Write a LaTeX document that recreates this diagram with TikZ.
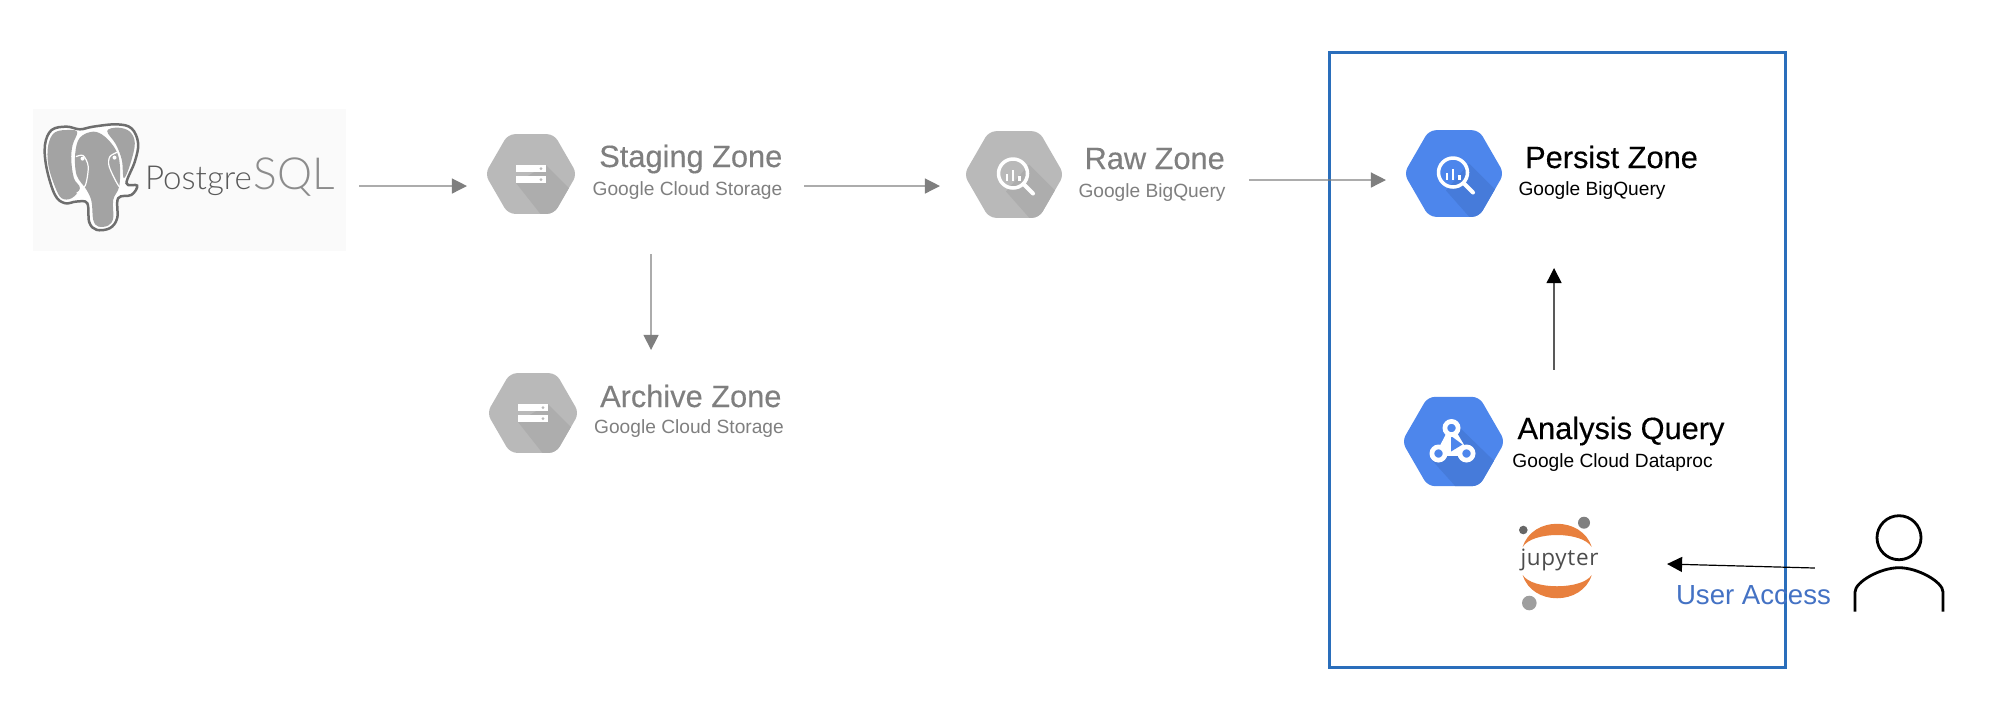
\documentclass[tikz,border=0pt]{standalone}
\usepackage{fontspec}
\setmainfont{Liberation Sans}
\newfontfamily\titlefont[FakeBold=.3]{Liberation Sans}
\newfontfamily\logofont[UprightFont=* Light]{Lato}
\newfontfamily\jupfont[LetterSpace=3]{Open Sans}
\usetikzlibrary{shapes.geometric, arrows.meta, positioning}
\definecolor{ZoneGray}{HTML}{B9B9B9}
\definecolor{ZoneGrayDark}{HTML}{ADADAD}
\definecolor{ZoneBlue}{HTML}{4D86EC}
\definecolor{ZoneBlueDark}{HTML}{467BDA}
\definecolor{LabelGray}{HTML}{7F7F7F}
\definecolor{FrameBlue}{HTML}{2A6EBB}
\definecolor{AccessBlue}{HTML}{4472C4}
\definecolor{JupyterOrange}{HTML}{E8803E}
\definecolor{LogoGray}{HTML}{A3A3A3}
\definecolor{LogoDark}{HTML}{6E6E6E}
\tikzset{
    % Hexagon styles
    hexbox/.style={
        regular polygon,
        regular polygon sides=6,
        draw=none,
        inner sep=0pt,
        rounded corners=.07cm,
        minimum size=#1
    },
    storageglyph/.style={
        path picture={
            \begin{scope}[shift={(path picture bounding box.center)}, sharp corners]
                \fill[#1] (-15,9) -- (15,-9) -- (60,36) -- (30,66) -- cycle;
                \fill[white] (-15,-9.2) rectangle (15,-1.6);
                \fill[white] (-15,1.8) rectangle (15,9.4);
                \fill[ZoneGray] (10,-5.4) circle (1.6);
                \fill[ZoneGray] (10,5.6) circle (1.6);
            \end{scope}
        }
    },
    queryglyph/.style={
        path picture={
            \begin{scope}[shift={(path picture bounding box.center)}, sharp corners]
                \fill[#1] (-8,17) -- (15,-10) -- (65,40) -- (30,60) -- cycle;
                \draw[white, line width=.035cm] (-1,-1) circle (14.5);
                \draw[white, line width=.04cm, line cap=round] (10,10) -- (19,19);
                \fill[white] (-8.5,-1) rectangle (-5.7,6.5);
                \fill[white] (-2.4,-5) rectangle (0.4,6.5);
                \fill[white] (3.7,1) rectangle (6.5,6.5);
            \end{scope}
        }
    },
    procglyph/.style={
        path picture={
            \begin{scope}[shift={(path picture bounding box.center)}, sharp corners]
                \fill[#1] (-23,17) -- (5,-15) -- (67,45) -- (20,65) -- cycle;
                \draw[white, fill=white, line width=.045cm, line join=round] (-2,-13.5) -- (-15,12) -- (13,12) -- cycle;
                \fill[ZoneBlue] (-2.5,-5.5) -- (-2.5,10) -- (9,3) -- cycle;
                \foreach \pos in {(-2,-13.5), (-15,12), (13,12)} {
                    \draw[white, line width=.047cm, fill=ZoneBlue] \pos circle (6.6);
                }
            \end{scope}
        }
    },
    % Label styles
    zonetitle/.style={
        anchor=base,
        inner sep=0pt,
        text=LabelGray,
        font=\titlefont\fontsize{8.75}{10}\selectfont
    },
    zonesub/.style={
        anchor=base,
        inner sep=0pt,
        text=LabelGray,
        font=\fontsize{5.45}{7}\selectfont
    },
    % Arrow styles
    grayarrow/.style={
        -{Triangle[length=.15cm,width=.15cm]},
        line width=.013cm,
        LabelGray
    },
    blackarrow/.style={
        -{Triangle[length=.15cm,width=.15cm]},
        line width=.012cm,
        black
    }
}
\begin{document}
\begin{tikzpicture}[x=.01cm, y=-.01cm]
    \useasboundingbox (0,0) rectangle (1994,708);

    % Frame
    \node[draw=FrameBlue, line width=.03cm, inner sep=0pt, minimum width=4.557cm, minimum height=6.15cm] (frame) at (1557.3,360) {};

    % PostgreSQL logo
    \node[fill=black!2, inner sep=0pt, minimum width=3.13cm, minimum height=1.42cm] (pg) at (189.5,180) {};
    \begin{scope}[shift={(30,115)}, x=.00333cm, y=-.00333cm]
        \draw[LogoDark, line width=.025cm, fill=white] plot[smooth cycle, tension=.6] coordinates {(45,90) (65,45) (110,35) (150,43) (190,35) (260,28) (305,40) (325,85) (315,140) (290,205) (322,212) (305,240) (265,250) (262,310) (240,340) (200,345) (178,322) (172,265) (140,260) (105,265) (75,240) (50,160)};
        \fill[LogoGray] plot[smooth cycle, tension=.6] coordinates {(55,90) (75,52) (120,45) (142,52) (128,90) (124,135) (132,190) (150,220) (125,250) (95,250) (75,215) (55,150)};
        \fill[LogoGray] plot[smooth cycle, tension=.6] coordinates {(232,48) (265,38) (300,50) (315,85) (302,145) (282,190) (276,135) (258,88)};
        \fill[LogoGray] plot[smooth cycle, tension=.6] coordinates {(136,115) (150,68) (190,50) (225,65) (258,105) (270,150) (268,215) (250,255) (250,310) (235,332) (205,335) (190,315) (185,260) (170,225) (140,180)};
        \draw[white, line width=.012cm] plot[smooth] coordinates {(138,125) (160,122) (175,155) (166,212) (140,235)};
        \draw[white, line width=.012cm] plot[smooth] coordinates {(262,112) (240,125) (238,155) (268,215) (295,222)};
        \fill[white] (158,131) circle (6);
        \fill[white] (254,128) circle (6);
    \end{scope}
    \node[anchor=base, inner sep=0pt, font=\logofont\fontsize{9.4}{11}\selectfont, text=black!65] (pgtext) at (198.5,189) {Postgre};
    \node[anchor=base west, inner sep=0pt, font=\logofont\fontsize{12.6}{14}\selectfont, text=black!45] (sqltext) at (pgtext.base east) {SQL};

    % Hexagons
    \node[hexbox=.92cm, fill=ZoneGray, storageglyph=ZoneGrayDark] (stage) at (531,174) {};
    \node[hexbox=.92cm, fill=ZoneGray, storageglyph=ZoneGrayDark] (archive) at (533,413) {};
    \node[hexbox=1cm, fill=ZoneGray, queryglyph=ZoneGrayDark] (raw) at (1014,174.5) {};
    \node[hexbox=1cm, fill=ZoneBlue, queryglyph=ZoneBlueDark] (persist) at (1454,173.5) {};
    \node[hexbox=1.03cm, fill=ZoneBlue, procglyph=ZoneBlueDark] (analysis) at (1453.5,441.5) {};

    % Zone labels
    \node[zonetitle] (stagetitle) at (690.8,167) {Staging Zone};
    \node[zonesub] (stagesub) at (687.5,195) {Google Cloud Storage};
    \node[zonetitle] (archivetitle) at (690.8,407) {Archive Zone};
    \node[zonesub] (archivesub) at (689,433) {Google Cloud Storage};
    \node[zonetitle] (rawtitle) at (1154.7,169) {Raw Zone};
    \node[zonesub] (rawsub) at (1152,197) {Google BigQuery};
    \node[zonetitle, text=black] (persisttitle) at (1611.5,168) {Persist Zone};
    \node[zonesub, text=black] (persistsub) at (1592,195) {Google BigQuery};
    \node[zonetitle, text=black] (analysistitle) at (1621,439) {Analysis Query};
    \node[zonesub, text=black] (analysissub) at (1612.6,467) {Google Cloud Dataproc};

    % Jupyter logo
    \node[anchor=base, inner sep=0pt, font=\jupfont\fontsize{6.4}{8}\selectfont, text=black!70] (jupyter) at (1559.5,565) {jupyter};
    \fill[JupyterOrange] (1522.7,547) .. controls (1532,516) and (1582,516) .. (1591.7,547) .. controls (1582,531) and (1532,531) .. cycle;
    \fill[JupyterOrange] (1522.7,575) .. controls (1532,606) and (1582,606) .. (1591.7,575) .. controls (1582,590) and (1532,590) .. cycle;
    \fill[black!50] (1584,522.7) circle (6);
    \fill[black!60] (1523.3,530) circle (4.3);
    \fill[black!38] (1529.3,603) circle (7.3);

    % User
    \node[inner sep=0pt, minimum width=.9cm, minimum height=.97cm] (user) at (1899,563.5) {};
    \node[circle, draw=black, line width=.028cm, inner sep=0pt, minimum size=.44cm] (userhead) at (1899,537.7) {};
    \draw[black, line width=.028cm] (1855,611.7) -- (1855,592) .. controls (1855,582) and (1880,567.7) .. (1899,567.7) .. controls (1918,567.7) and (1943,582) .. (1943,592) -- (1943,611.7);
    \node[inner sep=0pt, anchor=base, text=AccessBlue, font=\fontsize{7.85}{9}\selectfont] (access) at (1753.5,604) {User Access};

    % Connections
    \draw[grayarrow] ([xshift=1.695cm,yshift=-.06cm]pg.center) -- ([xshift=-.64cm,yshift=-.12cm]stage.center);
    \draw[grayarrow] ([xshift=2.73cm,yshift=-.12cm]stage.center) -- ([xshift=-.74cm,yshift=-.115cm]raw.center);
    \draw[grayarrow] ([xshift=2.35cm,yshift=-.055cm]raw.center) -- ([xshift=-.68cm,yshift=-.065cm]persist.center);
    \draw[grayarrow] ([xshift=1.2cm,yshift=-.8cm]stage.center) -- ([xshift=1.18cm,yshift=.63cm]archive.center);
    \draw[blackarrow] ([xshift=1.005cm,yshift=.715cm]analysis.center) -- ([xshift=1cm,yshift=-.945cm]persist.center);
    \draw[blackarrow] ([xshift=-.84cm,yshift=-.045cm]user.center) -- ([xshift=1.075cm,yshift=.01cm]jupyter.base);
\end{tikzpicture}
\end{document}
